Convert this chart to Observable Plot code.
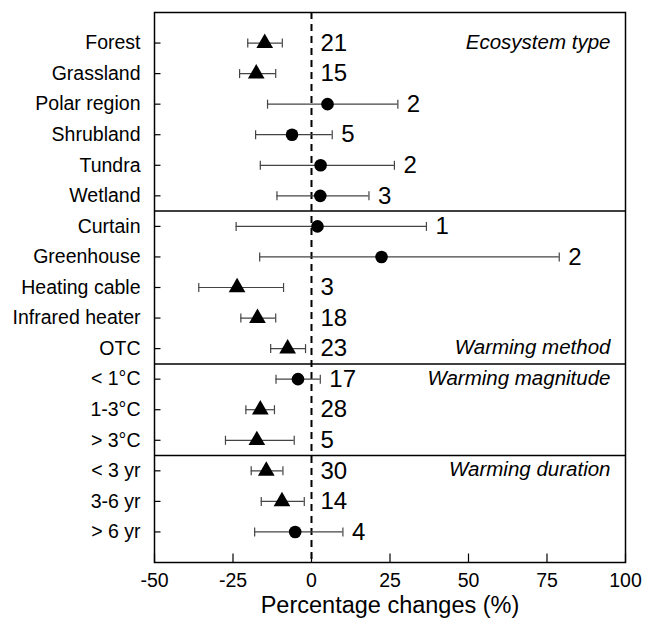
<!DOCTYPE html>
<html><head><meta charset="utf-8">
<script src="https://cdn.jsdelivr.net/npm/d3@7"></script>
<script src="https://cdn.jsdelivr.net/npm/@observablehq/plot@0.6"></script>
<style>body{margin:0;background:#fff;}</style>
</head><body><div id="chart"></div>
<script>
const categories = ["Forest","Grassland","Polar region","Shrubland","Tundra","Wetland",
  "Curtain","Greenhouse","Heating cable","Infrared heater","OTC",
  "< 1°C","1-3°C","> 3°C","< 3 yr","3-6 yr","> 6 yr"];
const means = [-14.9,-17.6,5.1,-6.2,2.9,2.8, 1.9,22.3,-23.7,-17.2,-7.6, -4.3,-16.3,-17.4, -14.4,-9.4,-5.2];
const lower = [-20.3,-22.9,-14.0,-17.8,-16.3,-11.0, -24.0,-16.5,-35.9,-22.5,-13.0, -11.3,-20.9,-27.4, -19.2,-16.0,-18.1];
const upper = [-9.3,-11.4,27.5,6.6,26.4,18.3, 36.6,78.9,-8.9,-11.4,-1.9, 2.8,-11.8,-5.5, -9.1,-2.3,10.0];
const counts = [21,15,2,5,2,3, 1,2,3,18,23, 17,28,5, 30,14,4];
const groupNames = ["Ecosystem type","Warming method","Warming magnitude","Warming duration"];
const groupSizes = [6,5,3,3];
const groupTitleRows = ["Forest","OTC","< 1°C","< 3 yr"];
const xTicks = [-50,-25,0,25,50,75,100];

const rows = categories.map((c,i)=>({i, cat:c, mean:means[i], lo:lower[i], hi:upper[i], n:counts[i],
  sig: upper[i] < 0 || lower[i] > 0}));
const seps = [];
{ let s = 0; for (let k = 0; k < groupSizes.length - 1; k++) { s += groupSizes[k]; seps.push(s - 0.5); } }
const titles = groupNames.map((g,k)=>({name:g, i:categories.indexOf(groupTitleRows[k])}));

const capSym = {draw(ctx){ ctx.moveTo(0,-4.5); ctx.lineTo(0,4.5); }};
const yTickSym = {draw(ctx){ ctx.moveTo(0,0); ctx.lineTo(6,0); }};
const xTickSym = {draw(ctx){ ctx.moveTo(0,0); ctx.lineTo(0,-9); }};
const barColor = "#444";

const chart = Plot.plot({
  width: 646, height: 621,
  marginTop: 12, marginBottom: 59, marginLeft: 154, marginRight: 21,
  style: {fontFamily: "'Liberation Sans', Arial, sans-serif", color: "black", background: "white"},
  x: {domain: [-50, 100]},
  y: {domain: [-1, 17], reverse: true},
  marks: [
    Plot.ruleY(seps, {stroke: "black", strokeWidth: 1.5}),
    Plot.ruleX([0], {stroke: "black", strokeWidth: 2, strokeDasharray: "7,5"}),
    Plot.ruleY(rows, {y: "i", x1: "lo", x2: "hi", stroke: barColor, strokeWidth: 1.2}),
    Plot.dot(rows, {x: "lo", y: "i", symbol: capSym, fill: "none", stroke: barColor, strokeWidth: 1.2}),
    Plot.dot(rows, {x: "hi", y: "i", symbol: capSym, fill: "none", stroke: barColor, strokeWidth: 1.2}),
    Plot.dot(rows.filter(d => d.sig), {x: "mean", y: "i", symbol: "triangle", fill: "black", r: 6.2}),
    Plot.dot(rows.filter(d => !d.sig), {x: "mean", y: "i", symbol: "circle", fill: "black", r: 6.3}),
    Plot.text(rows, {x: d => Math.max(d.hi, 0), y: "i", text: d => String(d.n), textAnchor: "start", dx: 9, fontSize: 24}),
    Plot.text(titles, {y: "i", text: "name", frameAnchor: "right", textAnchor: "end", dx: -15, dy: -1, fontStyle: "italic", fontSize: 20.5}),
    Plot.dot(rows, {y: "i", frameAnchor: "left", symbol: yTickSym, fill: "none", stroke: "black", strokeWidth: 1.2}),
    Plot.dot(xTicks, {x: d => d, frameAnchor: "bottom", symbol: xTickSym, fill: "none", stroke: "black", strokeWidth: 1.2}),
    Plot.frame({stroke: "black", strokeWidth: 1.5}),
    Plot.axisY(d3.range(categories.length), {tickSize: 0, tickPadding: 14, tickFormat: i => categories[i], fontSize: 19.5, label: null}),
    Plot.axisX(xTicks, {tickSize: 0, tickPadding: 11, tickFormat: d => String(d), fontSize: 19.5, label: null}),
    Plot.text(["Percentage changes (%)"], {frameAnchor: "bottom", dy: 50, fontSize: 23.5})
  ]
});
document.getElementById("chart").appendChild(chart);
</script>
</body></html>
